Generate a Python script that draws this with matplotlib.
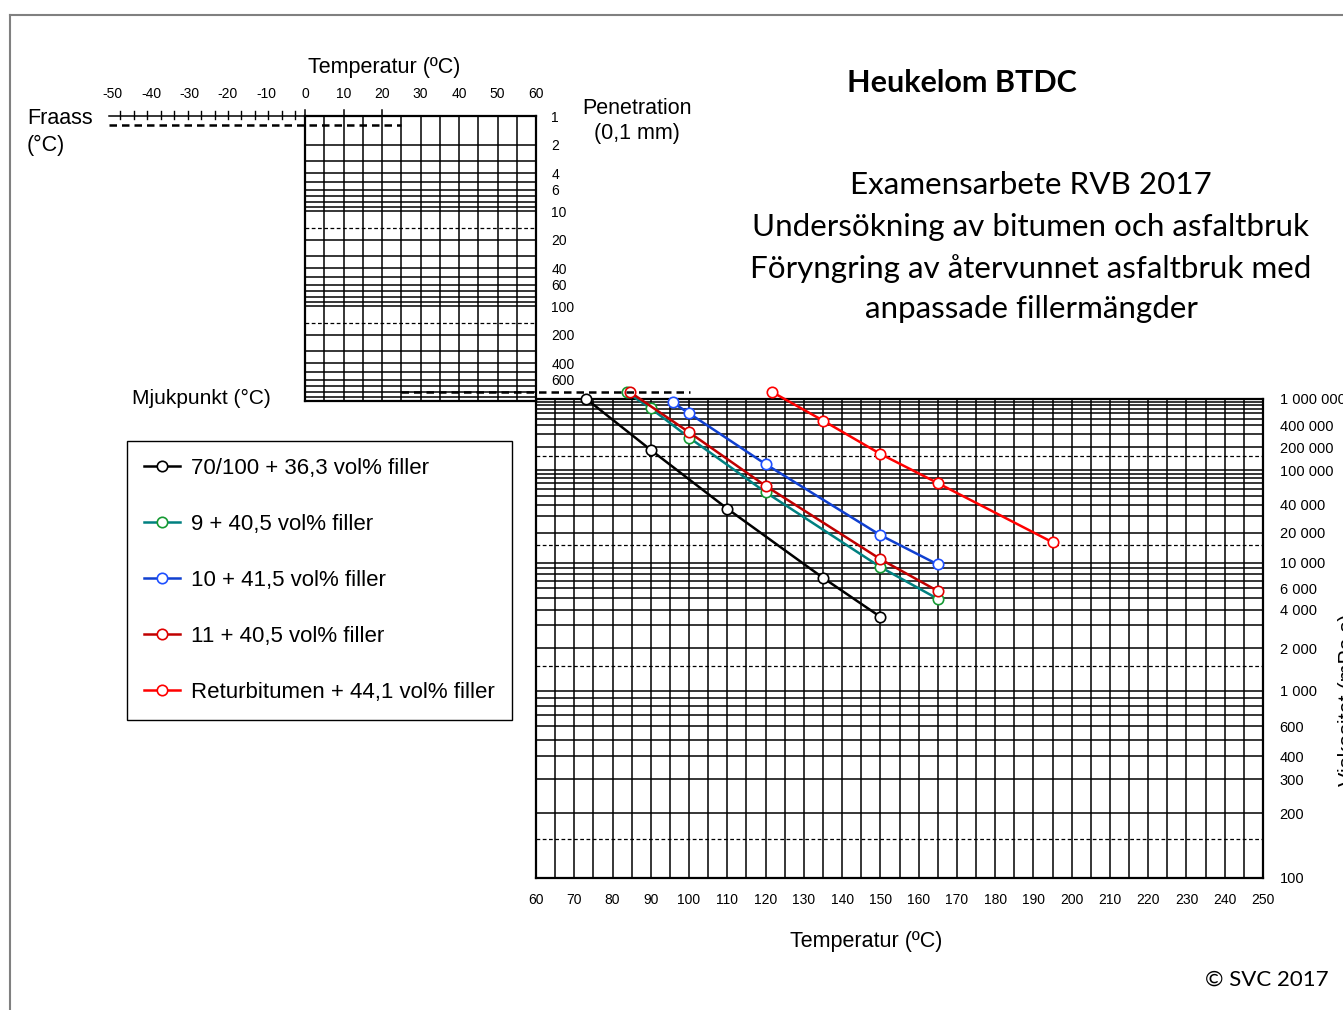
import numpy as np
import matplotlib.pyplot as plt
from matplotlib.lines import Line2D
from matplotlib.ticker import NullLocator

plt.rcParams['font.family'] = ['Liberation Sans', 'DejaVu Sans']

# --- measured data (temperature in degC, viscosity in mPa s) ---
black_T = [73, 90, 110, 135, 150]
black_v = [1.0e6, 1.83e5, 3.6e4, 7.4e3, 3.5e3]

green_T = [83.7, 90, 100, 120, 150, 165]
green_v = [1.25e6, 7.1e5, 2.7e5, 5.5e4, 9.2e3, 4.9e3]

blue_T = [95.7, 100, 120, 150, 165]
blue_v = [8.7e5, 6.0e5, 1.19e5, 1.89e4, 9.7e3]

red11_T = [84.6, 100, 120, 150, 165]
red11_v = [1.25e6, 3.2e5, 6.5e4, 1.09e4, 5.7e3]

retur_T = [121.8, 135, 150, 165, 195]
retur_v = [1.25e6, 4.7e5, 1.62e5, 7.0e4, 1.6e4]

series_names = ['70/100 + 36,3 vol% filler',
                '9 + 40,5 vol% filler',
                '10 + 41,5 vol% filler',
                '11 + 40,5 vol% filler',
                'Returbitumen + 44,1 vol% filler']

visc_ticks = [100, 200, 300, 400, 600, 1000, 2000, 4000, 6000, 10000,
              20000, 40000, 100000, 200000, 400000, 1000000]
visc_labels = ['100', '200', '300', '400', '600', '1 000', '2 000', '4 000',
               '6 000', '10 000', '20 000', '40 000', '100 000', '200 000',
               '400 000', '1 000 000']
pen_ticks = [1, 2, 4, 6, 10, 20, 40, 60, 100, 200, 400, 600]
temp_low_ticks = list(range(60, 251, 10))
temp_top_ticks = list(range(-50, 61, 10))

W, H = 1343, 1010
fig = plt.figure(figsize=(W / 100, H / 100), dpi=100)


def fx(x):
    return x / W


def fy(y):
    return 1 - y / H


# viscosity scale: log(log(eta)) inside each decade, decade heights of the BTDC sheet
DECADE_PX = [186.5, 128.0, 93.0, 71.5]
ll = np.log10(np.arange(2, 7))
hh = np.concatenate([[0.0], np.cumsum(DECADE_PX)])
slope_lo = DECADE_PX[0] / (ll[1] - ll[0])
slope_hi = DECADE_PX[-1] / (ll[-1] - ll[-2])
LL = np.concatenate([[0.0], ll, [np.log10(9.0)]])
HH = np.concatenate([[hh[0] - slope_lo * ll[0]], hh,
                     [hh[-1] + slope_hi * (np.log10(9.0) - ll[-1])]])


def visc_fwd(v):
    v = np.clip(np.asarray(v, dtype=float), 10.0001, 1e9)
    return np.interp(np.log10(np.log10(v)), LL, HH)


def visc_inv(h):
    return 10 ** (10 ** np.interp(h, HH, LL))


GRID_LW = 1.1

# ---------------- viscosity chart ----------------
ax_v = fig.add_axes([fx(536), fy(877.5), fx(1263) - fx(536), (877.5 - 398.5) / H])
ax_v.set_yscale('function', functions=(visc_fwd, visc_inv))
ax_v.set_xlim(60, 250)
ax_v.set_ylim(100, 1e6)

for t in range(65, 250, 5):
    ax_v.axvline(t, color='black', lw=GRID_LW, zorder=1)
for k in range(2, 6):
    for n in range(1, 10):
        if n == 1 and k == 2:
            continue
        ax_v.axhline(n * 10 ** k, color='black', lw=GRID_LW, zorder=1)
    ax_v.axhline(1.5 * 10 ** k, color='black', lw=0.9, ls=(0, (3, 2)), zorder=1)

for s in ax_v.spines.values():
    s.set_linewidth(1.6)

ax_v.set_xticks(temp_low_ticks)
ax_v.set_xticklabels([str(t) for t in temp_low_ticks])
ax_v.yaxis.tick_right()
ax_v.set_yticks(visc_ticks)
ax_v.set_yticklabels(visc_labels)
ax_v.yaxis.set_minor_locator(NullLocator())
ax_v.xaxis.set_minor_locator(NullLocator())
ax_v.tick_params(axis='x', length=0, labelsize=10, pad=11)
ax_v.tick_params(axis='y', length=0, labelsize=10.5, pad=12)

# ---------------- penetration chart ----------------
ax_p = fig.add_axes([fx(305), fy(401), fx(536) - fx(305), (401 - 116) / H])
ax_p.set_yscale('log')
ax_p.set_xlim(0, 60)
ax_p.set_ylim(1000, 1)

for t in range(5, 60, 5):
    ax_p.axvline(t, color='black', lw=GRID_LW, zorder=1)
for k in range(0, 3):
    for n in range(1, 10):
        if n == 1 and k == 0:
            continue
        ax_p.axhline(n * 10 ** k, color='black', lw=GRID_LW, zorder=1)
for p in (15, 150):
    ax_p.axhline(p, color='black', lw=0.9, ls=(0, (3, 2)), zorder=1)

for s in ax_p.spines.values():
    s.set_linewidth(1.6)

ax_p.yaxis.tick_right()
ax_p.set_yticks(pen_ticks)
ax_p.set_yticklabels([str(p) for p in pen_ticks])
ax_p.yaxis.set_minor_locator(NullLocator())
ax_p.set_xticks([])
ax_p.tick_params(axis='y', which='both', length=0, labelsize=10, pad=11)

for t in temp_top_ticks:
    ax_p.annotate(str(t), xy=(t, 1), xycoords=('data', 'axes fraction'),
                  xytext=(0, 16), textcoords='offset points',
                  ha='center', va='center', fontsize=10)

# Fraass scale along the top edge
ax_p.plot([-51, 0], [1, 1], color='black', lw=1.1, clip_on=False)
for t in np.arange(-48, 0, 3.5):
    ax_p.plot([t, t], [0.88, 1.08], color='black', lw=1.0, clip_on=False)
for t in (0, 10, 20):
    ax_p.plot([t, t], [0.87, 1], color='black', lw=GRID_LW, clip_on=False)
ax_p.plot([-51, 25], [1.25, 1.25], color='black', lw=1.8, ls=(0, (3, 2)),
          clip_on=False)
# softening point level (pen 800)
ax_p.plot([25, 100], [800, 800], color='black', lw=1.8, ls=(0, (3, 2)),
          clip_on=False, zorder=5)

# ---------------- data ----------------
series = [
    (black_T, black_v, 'black', 'black'),
    (green_T, green_v, '#008080', '#169a33'),
    (blue_T, blue_v, '#1040d0', '#1f50ff'),
    (red11_T, red11_v, '#c00000', '#e00000'),
    (retur_T, retur_v, '#ff0000', '#ff0000'),
]
handles = []
for (T, v, lc, mc), name in zip(series, series_names):
    ax_v.plot(T, v, color=lc, lw=1.8, marker='o', ms=7.5, mfc='white',
              mec=mc, mew=1.2, clip_on=False, zorder=6)
    handles.append(Line2D([], [], color=lc, lw=1.8, marker='o', ms=7.5,
                          mfc='white', mec=mc, mew=1.2))

leg = fig.legend(handles, series_names, loc='upper left',
                 bbox_to_anchor=(fx(127), fy(441)), frameon=True,
                 fancybox=False, edgecolor='black', framealpha=1,
                 fontsize=16, handlelength=1.65, handletextpad=0.5,
                 labelspacing=1.58, borderpad=0.75, borderaxespad=0)
leg.get_frame().set_linewidth(1.0)

# ---------------- texts ----------------
fig.text(fx(384), fy(67), 'Temperatur (ºC)', ha='center', va='center', fontsize=15.5)
fig.text(fx(27), fy(119), 'Fraass', ha='left', va='center', fontsize=15.5)
fig.text(fx(27), fy(145), '(°C)', ha='left', va='center', fontsize=15.5)
fig.text(fx(637), fy(108), 'Penetration', ha='center', va='center', fontsize=15.5)
fig.text(fx(637), fy(133), '(0,1 mm)', ha='center', va='center', fontsize=15.5)
fig.text(fx(201), fy(398), 'Mjukpunkt (°C)', ha='center', va='center', fontsize=15)
fig.text(fx(866), fy(941), 'Temperatur (ºC)', ha='center', va='center', fontsize=15.5)
fig.text(fx(1348), fy(700), 'Viskositet (mPa s)', rotation=90, ha='center',
         va='center', fontsize=15.5)

fig.text(fx(962), fy(83), 'Heukelom BTDC', ha='center', va='center',
         fontsize=22, fontweight='bold', family=['Lato', 'DejaVu Sans'])
block = ['Examensarbete RVB 2017',
         'Undersökning av bitumen och asfaltbruk',
         'Föryngring av återvunnet asfaltbruk med',
         'anpassade fillermängder']
for i, line in enumerate(block):
    fig.text(fx(1031), fy(185.5 + 41.3 * i), line, ha='center', va='center',
             fontsize=22.6, family=['Lato', 'DejaVu Sans'])
fig.text(fx(1329), fy(980), '© SVC 2017', ha='right', va='center',
         fontsize=16, family=['Lato', 'DejaVu Sans'])

# outer frame of the sheet
fig.add_artist(Line2D([fx(10), fx(10)], [fy(15), 0], color='#808080', lw=1.5))
fig.add_artist(Line2D([fx(10), 1], [fy(15), fy(15)], color='#808080', lw=1.5))

fig.savefig('out.png', dpi=100)
